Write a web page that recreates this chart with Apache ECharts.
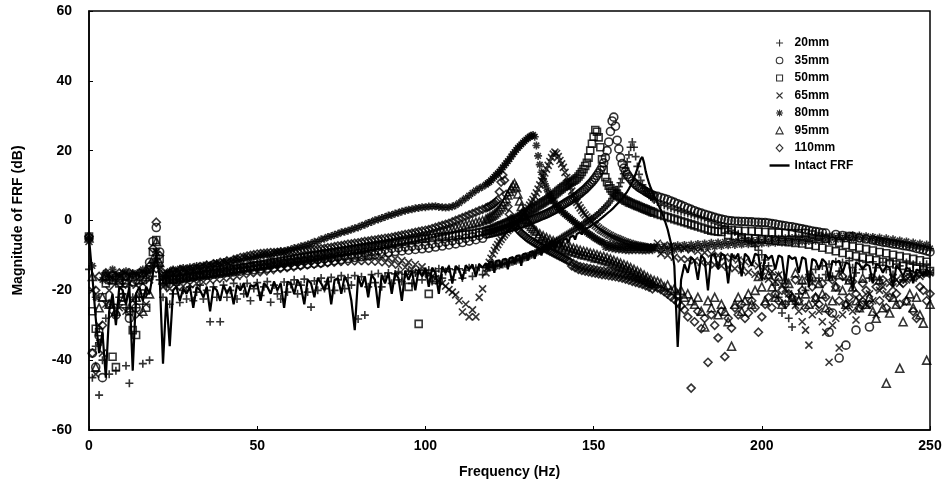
<!DOCTYPE html>
<html><head><meta charset="utf-8">
<script src="https://cdn.jsdelivr.net/npm/echarts@6/dist/echarts.min.js"></script>
<style>html,body{margin:0;padding:0;background:#fff}#c{width:949px;height:485px}</style>
</head><body><div id="c"></div>
<script>
// Frequency grid (Hz)
const freq = [
0,1,2,3,4,5,6,7,8,9,10,11,12,13,14,15,16,17,18,19,20,21,22,23,24,25,26,27,28,29,
30,31,32,33,34,35,36,37,38,39,40,41,42,43,44,45,46,47,48,49,50,51,52,53,54,55,56,57,58,59,
60,61,62,63,64,65,66,67,68,69,70,71,72,73,74,75,76,77,78,79,80,81,82,83,84,85,86,87,88,89,
90,91,92,93,94,95,96,97,98,99,100,101,102,103,104,105,106,107,108,109,110,111,112,113,114,115,116,117,
118,118.5,119,119.5,120,120.5,121,121.5,122,122.5,
123,123.5,124,124.5,125,125.5,126,126.5,127,127.5,
128,128.5,129,129.5,130,130.5,131,131.5,132,132.5,
133,133.5,134,134.5,135,135.5,136,136.5,137,137.5,
138,138.5,139,139.5,140,140.5,141,141.5,142,142.5,
143,143.5,144,144.5,145,145.5,146,146.5,147,147.5,
148,148.5,149,149.5,150,150.5,151,151.5,152,152.5,
153,153.5,154,154.5,155,155.5,156,156.5,157,157.5,
158,158.5,159,159.5,160,160.5,161,161.5,162,162.5,
163,163.5,164,164.5,165,165.5,166,166.5,167,167.5,
168,
169,170,171,172,173,174,175,176,177,178,179,180,181,182,183,184,185,186,187,188,
189,190,191,192,193,194,195,196,197,198,199,200,201,202,203,204,205,206,207,208,
209,210,211,212,213,214,215,216,217,218,219,220,221,222,223,224,225,226,227,228,
229,230,231,232,233,234,235,236,237,238,239,240,241,242,243,244,245,246,247,248,249,250
];

// Magnitudes (dB) per crack position
const s20 = [
-14,-45,-36,-50,-40,-28,-44,-24,-43,-22,
-21,-41.6,-46.6,-22,-25,-22,-41,-21,-40,-16,
-11,-17,-22,-19,-24,-21,-18.5,-23.5,-20,-22.5,
-19,-23,-20.5,-18.5,-22.5,-20,-29,-19,-22,-29,
-18.5,-22,-20,-18,-22.5,-19,-21,-18,-23,-19.5,
-17.8,-21.5,-19,-17.5,-23.4,-18.5,-21,-22.5,-17.6,-20.5,
-18.3,-17,-21,-18.5,-16.8,-20.5,-24.8,-17.3,-20,-16.5,
-19.5,-17.5,-16.3,-20,-17,-15.8,-19.5,-16.4,-18.5,-15.8,
-28.2,-16.1,-27.1,-19,-15.5,-17.8,-15.2,-19,-16,-15,
-18,-15.3,-14.6,-17.5,-15.4,-14.5,-18,-15,-14.4,-17,
-15,-14.2,-17.5,-14.5,-13.8,-16.5,-14.6,-13.8,-17,-14.1,
-13.8,-16.5,-14.2,-13.5,-16,-13.7,-13.4,-15.5,
-13.6,-13.4,-13.5,-13.2,-13.3,-13,-13.1,-12.8,-12.9,-12.6,
-12.6,-12.3,-12.4,-12.1,-12.1,-11.8,-11.8,-11.5,-11.5,-11.2,
-11.2,-10.9,-10.9,-10.6,-10.5,-10.2,-10.1,-9.8,-9.7,-9.4,
-9.2,-8.9,-8.7,-8.4,-8.2,-7.9,-7.6,-7.3,-7,-6.7,
-6.4,-6.1,-5.8,-5.5,-5.2,-4.9,-4.6,-4.3,-4,-3.7,
-3.4,-3.1,-2.8,-2.5,-2.2,-1.9,-1.6,-1.3,-1,-0.7,
-0.4,-0.1,0.2,0.5,0.8,1.2,1.6,2,2.4,2.9,
3.4,3.9,4.4,5,5.6,6.3,7,7.8,8.7,9.7,
10.8,12,13.4,15,16.8,18.8,21,22.5,21,18.3,
15.5,13.2,11.5,10.2,9.2,8.4,7.8,7.2,6.7,6.3,
5.9,
5.3,4.8,4.4,4,3.6,3.2,2.9,2.6,2.3,2,
1.7,1.4,1.1,0.8,0.5,0.1,-0.3,-0.7,-1.1,-1.5,
-1.9,-2.3,-2.8,-3.3,-3.8,-4.4,-5,-5.7,-6.5,-7.4,
-8.5,-9.8,-11.3,-13,-15.5,-18.5,-22,-26.5,-24,-28,
-30.5,-24,-21,-18,-20,-15.5,-17.5,-14,-16.5,-13,
-15.5,-12.5,-16,-11.8,-14.5,-12,-17,-11.5,-13.5,-15,
-11.5,-14,-12,-16.5,-11.8,-13.5,-17,-12,-14,-11.5,
-15.5,-12.5,-13,-17,-12,-14.5,-12.5,-16,-12.8,-14,
-12.5,-15
];
const s35 = [
-5,-38,-42,-33,-45,-16,-24,-16,-27,-16.5,
-22,-16,-28,-16.2,-25,-16,-21,-15.5,-12,-6,
-2,-9,-16,-17,-15.8,-17,-15.7,-16.8,-15.4,-16.5,
-15.2,-16.2,-14.9,-16,-14.7,-15.7,-14.4,-15.4,-14.2,-15.2,
-14,-14.9,-13.8,-14.7,-13.6,-14.5,-13.4,-14.3,-13.2,-14.1,
-13,-13.9,-12.8,-13.7,-12.6,-13.5,-12.4,-13.3,-12.2,-13.1,
-12,-12.9,-11.8,-12.7,-11.6,-12.5,-11.4,-12.3,-11.2,-12.1,
-11,-11.8,-10.7,-11.5,-10.4,-11.2,-10.1,-10.9,-9.8,-10.6,
-9.5,-10.4,-9.2,-10.1,-8.9,-9.8,-8.6,-9.5,-8.3,-9.2,
-8,-8.9,-7.8,-8.7,-7.6,-8.5,-7.4,-8.3,-7.2,-8.1,
-7,-7.9,-6.7,-7.6,-6.4,-7.3,-6.1,-7,-5.8,-6.7,
-5.5,-6.3,-5.1,-5.9,-4.7,-5.5,-4.3,-5.1,
-3.9,-3.8,-3.7,-3.6,-3.5,-3.4,-3.2,-3.1,-3,-2.8,
-2.7,-2.5,-2.4,-2.2,-2.1,-1.9,-1.8,-1.6,-1.5,-1.3,
-1.2,-1,-0.9,-0.7,-0.5,-0.3,-0.1,0.1,0.3,0.5,
0.7,0.9,1.1,1.3,1.5,1.7,1.9,2.1,2.4,2.6,
2.9,3.1,3.4,3.7,4,4.3,4.6,4.9,5.2,5.5,
5.8,6.1,6.4,6.7,7,7.4,7.8,8.2,8.6,9,
9.5,10,10.5,11,11.6,12.2,12.9,13.6,14.4,15.3,
16.5,18,20,22.5,25.5,28.5,29.6,27,23,20.5,
18,16.3,15,14,13.2,12.5,11.9,11.3,10.8,10.3,
9.9,9.5,9.2,8.9,8.6,8.3,8,7.8,7.5,7.3,
7.1,
6.9,6.6,6.3,6,5.6,5.2,4.8,4.4,4,3.6,
3.2,2.8,2.4,2.1,1.8,1.5,1.2,0.9,0.6,0.4,
0.2,0,-0.1,-0.2,-0.2,-0.3,-0.3,-0.4,-0.4,-0.5,
-0.5,-0.6,-0.6,-0.7,-0.9,-1,-1.2,-1.4,-1.5,-1.7,
-1.8,-2,-2.2,-2.4,-2.6,-2.8,-3,-3.2,-3.3,-3.5,
-3.6,-32,-26.5,-4,-39.4,-4.3,-35.7,-4.5,-4.6,-31.4,
-5,-24.2,-5.3,-30.5,-5.6,-5.8,-6,-6.2,-6.3,-6.5,
-6.7,-6.8,-7,-7.2,-7.3,-7.5,-7.7,-8,-8.2,-8.4,
-8.7,-9
];
const s50 = [
-4.6,-26,-31,-32,-22,-18,-17,-39,-42,-18,
-24,-18,-26,-31.4,-32.8,-23,-17,-25,-14,-9,
-5.6,-11,-17,-17.5,-17,-16.8,-17,-16.5,-16.6,-16.2,
-16.3,-16,-15.9,-15.6,-15.6,-15.3,-15.3,-15,-15,-14.7,
-14.6,-14.4,-14.2,-14,-13.9,-13.7,-13.5,-13.3,-13.2,-13,
-12.8,-12.6,-12.5,-12.3,-12.1,-12,-11.8,-11.6,-11.5,-11.3,
-11.2,-11,-10.8,-10.7,-10.5,-10.3,-10.2,-10,-9.9,-9.7,
-9.5,-9.4,-9.2,-9.1,-8.9,-8.8,-8.6,-8.5,-8.3,-8.2,
-8,-7.9,-7.7,-7.6,-7.4,-7.3,-7.1,-7,-6.8,-6.7,
-6.5,-6.4,-16,-6.1,-6,-19,-5.7,-5.6,-29.6,-5.3,
-5.2,-21,-5,-17,-4.8,-4.7,-4.6,-4.5,-4.4,-4.3,
-4.2,-4.1,-4,-3.9,-3.8,-3.6,-3.4,-3.2,
-3,-2.9,-2.7,-2.6,-2.4,-2.2,-2,-1.8,-1.6,-1.4,
-1.2,-1,-0.8,-0.6,-0.4,-0.2,0,0.2,0.4,0.7,
1,1.3,1.6,1.9,2.2,2.5,2.8,3.1,3.4,3.7,
4,4.3,4.6,4.9,5.2,5.5,5.8,6.1,6.4,6.8,
7.2,7.6,8,8.4,8.8,9.2,9.6,9.9,10.2,10.5,
10.8,11.1,11.4,11.7,12.1,12.6,13.2,13.9,14.7,15.6,
16.5,18,20,22,24,25.9,25.4,23.8,21,17.5,
14.5,12.4,11,10,9.2,8.5,8,7.6,7.2,6.9,
6.6,6.3,6,5.7,5.5,5.2,5,4.8,4.6,4.4,
4.2,4,3.8,3.6,3.4,3.2,3,2.8,2.6,2.4,
2.2,
1.9,1.6,1.3,1,0.7,0.4,0.1,-0.2,-0.5,-0.8,
-1.1,-1.4,-1.7,-2,-2.3,-2.6,-2.9,-3.1,-3.2,-3.3,
-2.6,-4.2,-2.8,-4.5,-2.9,-4.8,-3,-5,-3.1,-5.2,
-3.2,-5.4,-3.3,-5.6,-3.4,-5.8,-3.5,-6,-3.6,-6.2,
-3.6,-6.4,-3.7,-6.6,-3.6,-6.9,-4,-7.3,-4.6,-7.8,
-5.2,-8.3,-5.8,-8.8,-6.4,-9.3,-7,-9.8,-7.4,-10.2,
-7.8,-10.6,-8.2,-11,-8.6,-11.4,-9,-11.8,-9.4,-12.2,
-9.8,-12.6,-10.2,-13,-10.6,-13.4,-11,-13.8,-11.4,-14.2,
-11.8,-14.5
];
const s65 = [
-6,-20,-44,-30,-38,-24,-20,-27,-18,-25,
-18.5,-26,-18,-23,-18.5,-27,-18,-24,-17,-14,
-9,-14,-19,-17,-19.5,-17.2,-19,-17,-18.8,-16.6,
-18.4,-16.2,-18,-15.8,-17.6,-16,-17.2,-15.5,-16.9,-15.2,
-16.6,-15,-16.3,-14.6,-16,-14.2,-15.6,-14,-15.2,-13.6,
-15,-13.2,-14.7,-13,-14.4,-12.6,-14,-12.4,-13.8,-12,
-13.6,-11.8,-13.3,-11.5,-13,-11.3,-12.8,-11,-12.6,-10.9,
-12.4,-10.7,-12.2,-10.5,-12,-10.4,-11.9,-10.3,-11.8,-10.2,
-11.7,-10.1,-11.7,-10.2,-11.8,-10.2,-11.9,-10.4,-12.1,-10.7,
-12.5,-11,-12.8,-11.5,-13.4,-12,-14,-12.6,-14.8,-13.3,
-15,-15.5,-16,-16.6,-17.3,-18,-18.8,-19.8,-20.5,-21.3,
-23,-26.2,-24,-27.6,-25.6,-27.6,-22,-19.6,
-15,-13.5,-12,-10.8,-9.6,-8.6,-7.7,-6.9,-6.1,-5.4,
-4.7,-4.1,-3.5,-2.9,-2.4,-1.9,-1.4,-0.9,-0.4,0.1,
0.6,1.1,1.7,2.3,3,3.7,4.4,5.2,6,6.9,
7.9,9,10.2,11.4,12.5,13.6,14.7,15.8,16.9,18,
19,19.6,19.2,18.3,17.2,16.2,15.2,13.8,12.3,10.9,
9.6,8.4,7.2,6.2,5.2,4.4,3.6,2.9,2.2,1.6,
1,0.5,0,-0.5,-1,-1.4,-1.8,-2.2,-2.6,-2.9,
-3.2,-3.5,-3.8,-4.1,-4.3,-4.6,-4.8,-5,-5.2,-5.4,
-5.6,-5.8,-6,-6.2,-6.3,-6.5,-6.6,-6.8,-6.9,-7,
-7.1,-7.2,-7.3,-7.4,-7.5,-7.6,-7.7,-7.8,-7.8,-7.9,
-8,
-6.5,-9.5,-7,-10,-7.3,-10.5,-7.6,-11,-8,-11.2,
-8.4,-11.5,-8.8,-12,-9.2,-12.3,-9.6,-12.7,-10,-13,
-10.4,-13.4,-10.8,-13.8,-11.3,-14.3,-11.8,-14.8,-12.4,-15.4,
-13,-16,-13.8,-16.8,-14.6,-17.5,-15.6,-18.4,-19.6,-21,
-22.6,-24.3,-26,-29,-31.4,-35.7,-27,-24,-26,-29,
-32,-40.6,-30,-28,-36.5,-27,-25,-24,-26,-28.5,
-23,-22,-24,-21,-23,-27,-20,-19,-21,-18,
-19,-17,-18,-16.5,-17,-16,-16.5,-15.5,-16,-15,
-15.5,-15
];
const s80 = [
-5,-13,-22,-35,-17,-15,-16,-14,-15.5,-16,
-15,-14.5,-16,-15,-15.5,-14.8,-14,-15,-14,-12,
-9,-13,-16,-15,-14.5,-14,-14.6,-13.8,-13.6,-14.1,
-13.4,-13.9,-13,-13.6,-12.9,-12.7,-13.1,-12.4,-12.2,-12.6,
-11.9,-11.7,-12.1,-11.4,-11.2,-11.6,-10.9,-10.7,-11.1,-10.4,
-10.5,-10.1,-9.9,-9.7,-10.1,-9.4,-9.1,-8.9,-9.1,-8.5,
-8.3,-7.9,-7.8,-7.4,-7.2,-6.9,-6.6,-6.1,-6,-5.4,
-5.2,-4.7,-4.5,-4.1,-3.8,-3.4,-3.2,-2.9,-2.6,-2.2,
-2,-1.5,-1.2,-0.7,-0.4,0.1,0.3,0.7,1,1.4,
1.6,2,2.2,2.6,2.8,3.1,3.2,3.5,3.6,3.8,
3.8,4,4,4.1,3.9,3.8,3.7,3.8,4,4.4,
5,5.7,6.4,7.1,7.9,8.6,9.2,9.7,
10.3,10.7,11,11.5,12,12.5,13,13.5,14,14.6,
15.2,15.8,16.4,17,17.6,18.3,19,19.6,20.2,20.8,
21.3,21.8,22.3,22.8,23.2,23.6,24,24.3,24.5,24,
21.5,18.5,16,13.8,12,10.5,9.3,8.2,7.2,6.4,
5.6,4.9,4.3,3.7,3.2,2.7,2.2,1.8,1.4,1,
0.6,0.2,-0.2,-0.6,-1,-1.4,-1.8,-2.2,-2.6,-3,
-3.4,-3.8,-4.1,-4.4,-4.8,-5.1,-5.4,-5.7,-6,-6.2,
-6.4,-7.6,-6.7,-7.8,-6.9,-8,-7.1,-8.2,-7.2,-8.3,
-7.3,-8.4,-7.4,-8.5,-7.5,-8.6,-7.4,-8.5,-7.6,-8.5,
-7.6,-8.5,-7.7,-8.6,-7.5,-8.6,-7.7,-8.5,-7.6,-8.5,
-7.5,
-7.5,-8.6,-7.5,-8.5,-7.3,-8.4,-7.1,-8.2,-7,-8,
-6.9,-7.9,-6.7,-7.8,-6.6,-7.6,-6.4,-7.5,-6.3,-7.3,
-6.1,-7.1,-6,-7,-5.8,-6.9,-5.7,-6.8,-5.6,-6.7,
-5.5,-6.6,-5.4,-6.5,-5.3,-6.4,-5.2,-6.3,-5.1,-6.2,
-5,-6.1,-4.9,-6,-4.8,-5.9,-4.7,-5.8,-4.6,-5.7,
-4.5,-5.6,-4.4,-5.5,-4.3,-5.4,-4.3,-5.3,-4.2,-5.3,
-4.3,-5.4,-4.5,-5.6,-4.7,-5.8,-4.9,-6,-5.1,-6.3,
-5.4,-6.5,-5.7,-6.8,-6,-7.1,-6.3,-7.4,-6.6,-7.7,
-6.9,-8
];
const s95 = [
-5,-16,-42,-25,-22,-16,-24,-17,-26,-17,
-23,-17,-25,-17.5,-22,-17,-26,-16,-21,-11,
-6,-12,-17,-16.5,-16,-16.2,-15.8,-16,-15.6,-15.8,
-15.4,-15.5,-15.2,-15.3,-15,-15,-14.8,-14.8,-14.5,-14.6,
-14.5,-14.2,-14.3,-14,-13.8,-13.7,-13.5,-13.4,-13.1,-13.1,
-13,-12.8,-12.7,-12.5,-12.4,-12.2,-12,-11.9,-11.7,-11.6,
-11.5,-11.3,-11.2,-11,-10.8,-10.7,-10.5,-10.3,-10.1,-10,
-9.8,-9.6,-9.5,-9.3,-9.1,-9,-8.8,-8.6,-8.4,-8.3,
-8.2,-8,-7.8,-7.6,-7.4,-7.2,-7,-6.8,-6.6,-6.4,
-6.2,-6,-5.8,-5.6,-5.4,-5.2,-5,-4.8,-4.6,-4.4,
-4.2,-4,-3.7,-3.5,-3.2,-3,-2.8,-2.5,-2.3,-2,
-1.8,-1.5,-1.3,-1,-0.8,-0.5,-0.3,0,
0.4,0.6,0.9,1.2,1.5,1.9,2.3,2.8,3.3,3.9,
4.6,5.4,6.3,7.3,8.3,9.2,10,10.6,9.6,7.6,
5.6,4,2.6,1.4,0.4,-0.4,-1.1,-1.7,-2.2,-2.7,
-3.1,-4.5,-3.8,-5.1,-4.4,-5.7,-4.9,-6.2,-5.4,-6.6,
-5.8,-7,-6.2,-7.4,-6.6,-7.8,-7,-8.2,-7.3,-8.5,
-7.6,-8.8,-7.9,-9.1,-8.2,-9.4,-8.5,-9.7,-8.8,-9.9,
-9,-10.1,-9.3,-10.4,-9.5,-10.7,-9.8,-10.9,-10.1,-11.2,
-10.3,-11.5,-10.6,-11.8,-11,-12.2,-11.4,-12.6,-11.8,-13,
-12.2,-13.4,-12.6,-13.8,-13,-14.3,-13.5,-14.8,-14,-15.3,
-14.5,-15.8,-15,-16.3,-15.6,-16.9,-16.2,-17.5,-16.8,-18,
-17.2,
-17.5,-18,-19,-18.5,-20,-19.5,-21,-20,-22,-21,
-23,-24,-22,-26,-30.5,-23,-25,-22,-27,-24,
-26,-29,-36,-24,-22,-26,-23,-21,-24,-20,
-16,-19,-23,-15.5,-19,-22,-16,-24,-17,-18,
-22,-15,-23,-17,-21,-24,-16,-22,-18,-21,
-25,-16,-23,-19,-15.5,-20,-24,-17,-19,-23,
-25,-16.5,-24,-22,-26,-28,-17,-25,-46.6,-26.5,
-22,-24,-42.3,-29,-23,-21,-25,-22,-27,-29.4,
-40,-24
];
const s110 = [
-4.5,-38,-20,-16,-30,-15,-17,-15.5,-16,-15,
-15.5,-16,-15,-15.5,-16,-15,-15.5,-14.5,-13,-8,
-0.5,-10,-15,-15.5,-15,-14.5,-14.8,-14.2,-14.5,-14,
-14,-13.6,-13.8,-13.2,-13.4,-12.8,-13,-12.4,-12.6,-12,
-12.2,-11.6,-11.8,-11.2,-11,-10.6,-10.5,-10.2,-10,-9.8,
-9.6,-9.5,-9.4,-9.3,-9.2,-9.2,-9.1,-9,-9,-9,
-9,-8.9,-8.8,-8.7,-8.6,-8.5,-8.4,-8.3,-8.2,-8.1,
-8,-7.8,-7.7,-7.5,-7.3,-7.2,-7,-6.8,-6.7,-6.5,
-6.4,-6.2,-6,-5.9,-5.7,-5.6,-5.4,-5.3,-5.1,-5,
-4.8,-4.6,-4.4,-4.2,-4,-3.8,-3.6,-3.4,-3.2,-3,
-2.8,-2.6,-2.3,-2,-1.7,-1.4,-1.1,-0.8,-0.4,0,
0.4,0.8,1.2,1.6,2,2.4,2.8,3.2,
3.6,3.8,4,4.3,4.6,5,5.4,5.9,8.2,11,
13,11.5,7.5,4,1.8,0.5,-0.5,-1.3,-2,-2.6,
-3.1,-3.6,-4,-4.4,-4.8,-5.2,-5.5,-5.8,-6.1,-6.4,
-6.7,-7,-7.2,-7.5,-7.8,-8,-8.3,-8.5,-8.8,-9,
-9.3,-9.5,-9.8,-10,-10.3,-10.5,-10.8,-11,-11.3,-11.5,
-11.8,-13,-12.3,-13.5,-12.8,-14,-13.2,-14.3,-13.4,-14.5,
-13.6,-14.7,-13.8,-14.9,-14,-15.1,-14.2,-15.3,-14.4,-15.5,
-14.5,-15.6,-14.7,-15.8,-14.8,-15.9,-15,-16.1,-15.2,-16.3,
-15.4,-16.5,-15.6,-16.8,-15.9,-17.1,-16.2,-17.4,-16.5,-17.7,
-16.8,-18,-17.1,-18.3,-17.5,-18.7,-17.9,-19.1,-18.3,-19.6,
-18.9,
-19.3,-19.8,-20.4,-21.1,-21.9,-22.6,-23.5,-24.5,-25.6,-27.6,
-48,-29,-26,-31,-28,-40.6,-27,-30,-33.6,-26,
-39,-28,-30.8,-25,-27,-24,-28,-26.5,-23,-25,
-32,-27.6,-24,-22,-25,-21,-23,-20,-24,-21,
-22,-17,-23,-20,-25,-16.5,-19,-22,-24,-18,
-22,-26,-17,-19,-23,-16,-24,-22,-17.5,-21,
-25,-18,-20,-24,-16.5,-19,-23,-17,-25,-22,
-17,-21,-24,-18,-23,-16,-26,-28,-19,-20,
-23,-21
];
const intact = [
-5,-16,-28,-38,-32,-45,-26,-21,-30,-19,
-20,-24,-19,-43,-21,-19,-23,-19,-21,-15,
-10,-16,-41,-22,-36,-20,-19,-23,-19.5,-21,
-19,-25,-19,-20,-22,-19,-26,-19,-20,-23,
-18.5,-21,-19,-24,-18.5,-20,-18,-22,-18.5,-19,
-18,-23,-18,-19,-21,-17.5,-20,-18,-25,-17.5,
-18,-21,-17,-19,-24,-17,-18,-22,-16.5,-18,
-20,-16.5,-24,-17,-16.5,-21,-16,-18,-23,-31.4,
-16,-19,-16,-22,-15.5,-17,-25,-15.5,-18,-15,
-21,-15,-16.5,-23,-14.5,-17,-14.5,-20,-14,-16,
-13.5,-19,-13.5,-15,-21,-13.2,-15,-13,-18,-13,
-14,-17,-12.8,-14,-12.6,-16,-12.5,-13.5,
-12.2,-14,-12,-12.5,-11.8,-15,-11.6,-12,-11.4,-13.5,
-11.2,-11.5,-11,-14,-10.8,-11,-10.5,-12.5,-10.2,-10.5,
-10,-13,-9.7,-10,-9.4,-11.5,-9.1,-9.3,-8.8,-11,
-8.5,-8.6,-8.2,-10,-7.8,-8,-7.5,-9,-7.1,-7.2,
-6.8,-8.5,-6.4,-6.4,-6,-7.5,-5.6,-5.5,-5.2,-6.5,
-4.8,-4.6,-4.3,-5.5,-3.9,-3.6,-3.3,-4,-2.8,-2.5,
-2.2,-2.5,-1.7,-1.3,-1,-0.8,-0.4,0,0.4,0.8,
1.2,1.6,2,2.4,2.8,3.2,3.7,4.2,4.7,5.2,
5.7,6.3,6.9,7.6,8.3,9.1,10,11,12.1,13.4,
14.8,16.3,17.6,18.2,16.5,14,12.2,10.6,9.3,8.1,
7,
5,3,0.5,-2.5,-6.5,-13,-36.2,-17,-12.5,-15,
-10.5,-11.5,-17,-10,-11,-20,-10,-9.5,-14,-9.5,
-10,-18,-9.5,-11,-9.5,-16,-9.5,-10.5,-13,-9.5,
-10,-17,-9.8,-11,-10,-14,-10,-10.5,-18,-10,
-11,-10.5,-15,-10.5,-11,-19,-11,-11.5,-14,-11,
-12,-17,-11.5,-12,-11.5,-15,-12,-12.5,-20,-12,
-12.5,-14,-12.5,-13,-18,-12.5,-13,-15,-13,-13.5,
-19,-13,-14,-16,-13.5,-14,-18,-14,-14.5,-16,
-14,-15
];

const seriesNames = ['20mm','35mm','50mm','65mm','80mm','95mm','110mm','Intact FRF'];
const xTicks = {min: 0, max: 250, interval: 50};
const yTicks = {min: -60, max: 60, interval: 20};

const FONT = "'Liberation Sans', Arial, sans-serif";
const pts = arr => freq.map((f, i) => [f, arr[i]]);
const hollow = {color: 'rgba(0,0,0,0)', borderColor: '#000', borderWidth: 1.6};
const PLUS = 'path://M0,5L10,5M5,0L5,10';
const CROSS = 'path://M0,0L10,10M10,0L0,10';
const STAR = 'path://M0,5L10,5M5,0L5,10M1.5,1.5L8.5,8.5M8.5,1.5L1.5,8.5';

// legend icons: 20x8 box (corner move-tos fix the box), glyph centred
const BOX = 'path://M0,0M20,8';
const legendIcons = [
  BOX + 'M6.5,4H13.5M10,0.5V7.5',
  BOX + 'M6.7,4A3.3,3.3,0,1,1,13.3,4A3.3,3.3,0,1,1,6.7,4Z',
  BOX + 'M7,1H13V7H7Z',
  BOX + 'M7,1L13,7M13,1L7,7',
  BOX + 'M6.5,4H13.5M10,0.5V7.5M7.5,1.5L12.5,6.5M12.5,1.5L7.5,6.5',
  BOX + 'M10,0.6L13.6,7.4H6.4Z',
  BOX + 'M10,0.4L13.4,4L10,7.6L6.6,4Z',
  BOX + 'M0,2.8H20V5.2H0Z'
];

const markerDefs = [
  [seriesNames[0], s20, PLUS, 8],
  [seriesNames[1], s35, 'circle', 8],
  [seriesNames[2], s50, 'rect', 7],
  [seriesNames[3], s65, CROSS, 7],
  [seriesNames[4], s80, STAR, 8],
  [seriesNames[5], s95, 'triangle', 8],
  [seriesNames[6], s110, 'diamond', 8]
];

const series = markerDefs.map(([name, arr, sym, size]) => ({
  name, type: 'scatter', data: pts(arr), symbol: sym, symbolSize: size, symbolKeepAspect: true,
  itemStyle: hollow, emphasis: {disabled: true}, silent: true
}));
series.push({
  name: seriesNames[7], type: 'line', data: pts(intact), symbol: 'none', showSymbol: false,
  lineStyle: {color: '#000', width: 2.2}, itemStyle: {color: '#000'},
  emphasis: {disabled: true}, silent: true
});

const legendData = seriesNames.map((n, i) => i < 7
  ? {name: n, icon: legendIcons[i], itemStyle: {color: 'rgba(0,0,0,0)', borderColor: '#000', borderWidth: 1.1}}
  : {name: n, icon: legendIcons[i], itemStyle: {color: '#000', borderWidth: 0}});

const chart = echarts.init(document.getElementById('c'), null, {renderer: 'canvas'});
chart.setOption({
  animation: false,
  backgroundColor: '#fff',
  grid: {left: 89, right: 19, top: 11, bottom: 55, show: true, borderColor: '#000', borderWidth: 1.5, backgroundColor: 'transparent'},
  xAxis: {
    type: 'value', min: xTicks.min, max: xTicks.max, interval: xTicks.interval,
    name: 'Frequency (Hz)', nameLocation: 'middle', nameGap: 35,
    nameTextStyle: {fontFamily: FONT, fontWeight: 'bold', fontSize: 14, color: '#000'},
    axisLine: {onZero: false, lineStyle: {color: '#000', width: 1.5}},
    axisTick: {inside: true, length: 4, lineStyle: {color: '#000'}},
    axisLabel: {fontFamily: FONT, fontWeight: 'bold', fontSize: 14, color: '#000', margin: 9},
    splitLine: {show: false}
  },
  yAxis: {
    type: 'value', min: yTicks.min, max: yTicks.max, interval: yTicks.interval,
    name: 'Magnitude of FRF (dB)', nameLocation: 'middle', nameGap: 64, nameRotate: 90,
    nameTextStyle: {fontFamily: FONT, fontWeight: 'bold', fontSize: 14, color: '#000'},
    axisLine: {onZero: false, lineStyle: {color: '#000', width: 1.5}},
    axisTick: {inside: true, length: 4, lineStyle: {color: '#000'}},
    axisLabel: {fontFamily: FONT, fontWeight: 'bold', fontSize: 14, color: '#000', margin: 17},
    splitLine: {show: false}
  },
  legend: {
    orient: 'vertical', left: 764, top: 31, itemWidth: 20, itemHeight: 8, itemGap: 3.5,
    data: legendData, selectedMode: false,
    textStyle: {fontFamily: FONT, fontWeight: 'bold', fontSize: 12, color: '#000', lineHeight: 14}
  },
  series
});
</script>
</body></html>
